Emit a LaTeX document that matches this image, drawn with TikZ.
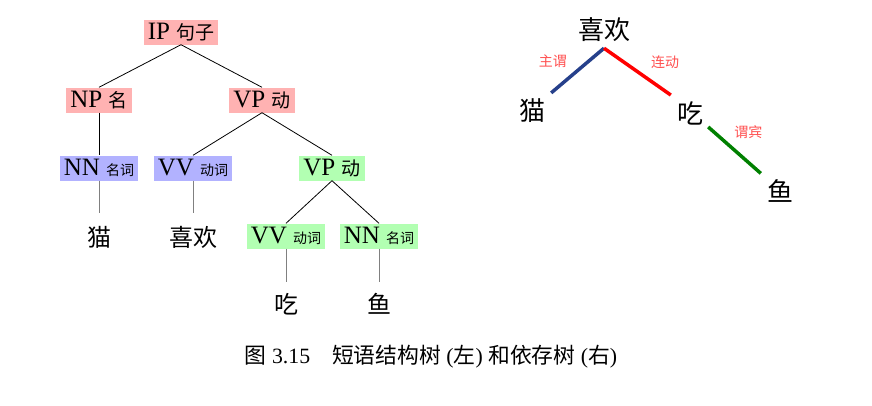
\documentclass[tikz,border=0pt]{standalone}
\usepackage{fontspec}
\usepackage{tikz}
\usepackage{xcolor}
\setmainfont{Liberation Serif}
\newfontfamily\cjk{Noto Sans CJK SC}

\newcommand{\zhmid}[1]{{\cjk\fontsize{19pt}{19pt}\selectfont #1}}
\newcommand{\zhsmall}[1]{{\cjk\fontsize{14pt}{14pt}\selectfont #1}}
\newcommand{\zh}[1]{{\cjk #1}}

\definecolor{depblue}{RGB}{38,64,139}
\definecolor{depgreen}{RGB}{0,128,0}
\definecolor{labred}{RGB}{255,80,80}

\tikzset{
  cat/.style={fill=#1, inner xsep=4pt, inner ysep=0pt, minimum height=25pt,
    font=\fontsize{25pt}{25pt}\selectfont},
  leaf/.style={inner sep=1pt, font=\cjk\fontsize{24pt}{24pt}\selectfont},
  word/.style={inner sep=6pt, font=\cjk\fontsize{26pt}{26pt}\selectfont},
  rel/.style={inner sep=1pt, text=labred, font=\cjk\fontsize{14pt}{14pt}\selectfont},
  edge/.style={line width=0.8pt},
  dep/.style={line width=3.5pt}
}

\begin{document}
\begin{tikzpicture}[x=1pt, y=-1pt]
    \useasboundingbox (0,0) rectangle (872,405);

    % phrase structure tree
    \node[cat=red!30] (ip) at (181,32) {IP \zhmid{句子}};
    \node[cat=red!30] (np) at (99,100) {NP \zhmid{名}};
    \node[cat=red!30] (vp1) at (262,100) {VP \zhmid{动}};
    \node[cat=blue!30] (nn1) at (99,168) {NN \zhsmall{名词}};
    \node[cat=blue!30] (vv1) at (193,168) {VV \zhsmall{动词}};
    \node[cat=green!30] (vp2) at (332,168) {VP \zhmid{动}};
    \node[cat=green!30] (vv2) at (286,236) {VV \zhsmall{动词}};
    \node[cat=green!30] (nn2) at (379,236) {NN \zhsmall{名词}};

    \node[leaf] (w1) at (99,237) {猫};
    \node[leaf] (w2) at (193,237) {喜欢};
    \node[leaf] (w3) at (286,304) {吃};
    \node[leaf] (w4) at (379,304) {鱼};

    \draw[edge] (ip.south) -- (np.north);
    \draw[edge] (ip.south) -- (vp1.north);
    \draw[edge] (np.south) -- (nn1.north);
    \draw[edge] (vp1.south) -- (vv1.north);
    \draw[edge] (vp1.south) -- (vp2.north);
    \draw[edge] (vp2.south) -- (vv2.north);
    \draw[edge] (vp2.south) -- (nn2.north);

    \draw[edge, gray] (nn1.south) -- ([yshift=12pt]w1.north);
    \draw[edge, gray] (vv1.south) -- ([yshift=12pt]w2.north);
    \draw[edge, gray] (vv2.south) -- ([yshift=10pt]w3.north);
    \draw[edge, gray] (nn2.south) -- ([yshift=10pt]w4.north);

    % dependency tree
    \node[word] (xh) at (604,30) {喜欢};
    \node[word] (mao) at (532,111) {猫};
    \node[word] (chi) at (690,113) {吃};
    \node[word] (yu) at (780,191) {鱼};

    \draw[dep, depblue] (mao.north east) -- node[rel, above left, xshift=-8pt] {主谓} (xh.south);
    \draw[dep, red] (xh.south) -- node[rel, above right, xshift=11pt] {连动} (chi.north west);
    \draw[dep, depgreen] ([shift={(-1pt,4pt)}]chi.south east) -- node[rel, above right, xshift=-3pt, yshift=9pt] {谓宾} (yu.north west);

    % caption
    \node[font=\fontsize{21.8pt}{22pt}\selectfont] (cap) at (431,357) {\zh{图} 3.15\quad\zh{短语结构树} (\zh{左}) \zh{和依存树} (\zh{右})};

\end{tikzpicture}
\end{document}
